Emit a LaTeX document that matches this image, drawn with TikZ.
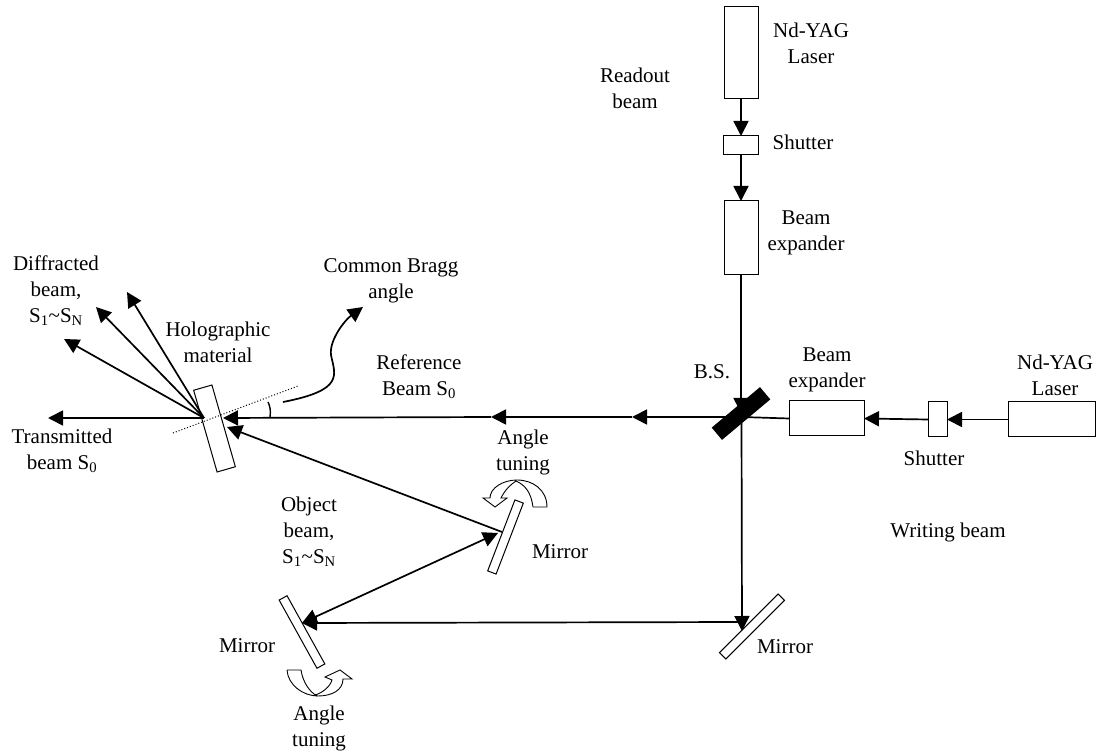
\documentclass[tikz,border=0pt]{standalone}
\usepackage{fontspec}
\setmainfont{Liberation Serif}
\usetikzlibrary{arrows.meta}

\begin{document}
\begin{tikzpicture}[x=1pt, y=-1pt,
    box/.style={draw, line width=1pt, inner sep=0pt, outer sep=0pt},
    plate/.style={box, fill=white, minimum height=9pt},
    beam/.style={line width=1.7pt},
    ray/.style={beam, -{Triangle[length=15pt, width=15pt]}},
    label/.style={align=center, inner sep=0pt, font=\fontsize{21}{26}\selectfont}]
\useasboundingbox (0,0) rectangle (1096,751);

% Vertical arm with the readout laser
\node[box, minimum width=34pt, minimum height=92pt] (laserTop) at (741,53) {};
\node[box, minimum width=35pt, minimum height=19pt] (shutterTop) at (741,145.5) {};
\node[box, minimum width=34pt, minimum height=74pt] (expanderTop) at (741,238) {};

% Horizontal arm with the writing laser
\node[box, minimum width=75pt, minimum height=35pt] (expanderRight) at (826.5,418.5) {};
\node[box, minimum width=19pt, minimum height=35pt] (shutterRight) at (937.5,419.5) {};
\node[box, minimum width=87.5pt, minimum height=35pt] (laserRight) at (1051.75,419.5) {};

% Mirrors and the holographic plate
\node[plate, minimum width=83pt, rotate=45] (mirrorRight) at (752,626.5) {};
\node[plate, minimum width=78pt, rotate=-61] (mirrorLeft) at (302,632) {};
\node[plate, minimum width=76pt, rotate=69] (mirrorUpper) at (505.5,537) {};
\node[box, fill=white, minimum width=85pt, minimum height=19pt, rotate=-74] (holo) at (214.5,428.5) {};

% Points on the beams
\coordinate (split) at (741.5,417);
\coordinate (splitUp) at (741,413);
\coordinate (turnRight) at (742,622);
\coordinate (hitRight) at (742,631);
\coordinate (hitLeft) at (302,623);
\coordinate (hitUpper) at (498,533);
\coordinate (startUpper) at (502,532);
\coordinate (refA) at (632,417);
\coordinate (refB) at (491,417);
\coordinate (holoRef) at (223,418);
\coordinate (holoObj) at (227,427);
\coordinate (holoOut) at (204,418);
\coordinate (outMain) at (48,418);
\coordinate (outA) at (127,292);
\coordinate (outB) at (96,307);
\coordinate (outC) at (64,339);

% Beams
\draw[ray] (laserTop.south) -- (shutterTop.north);
\draw[ray] (shutterTop.south) -- (expanderTop.north);
\draw[ray] (expanderTop.south) -- (splitUp);
\draw[ray] (split) -- (hitRight);
\draw[ray] (laserRight.west) -- (shutterRight.east);
\draw[ray] (shutterRight.west) -- (expanderRight.east);
\draw[beam] (expanderRight.west) -- (split);
\draw[ray] (split) -- (refA);
\draw[ray] (refA) -- (refB);
\draw[ray] (refB) -- (holoRef);
\draw[ray] (startUpper) -- (holoObj);
\draw[ray] (turnRight) -- (hitLeft);
\draw[ray, {Triangle[length=15pt, width=15pt]}-{Triangle[length=15pt, width=15pt]}] (hitUpper) -- (hitLeft);
\draw[ray] (holoOut) -- (outMain);
\draw[ray] (holoOut) -- (outA);
\draw[ray] (holoOut) -- (outB);
\draw[ray] (holoOut) -- (outC);

% Beam splitter on top of the beams
\node[box, fill=black, minimum width=62pt, minimum height=15pt, rotate=40] (splitter) at (741,413.5) {};

% Normal of the plate and the Bragg angle
\coordinate (normalA) at (173,433);
\coordinate (normalB) at (298,386);
\coordinate (braggA) at (283,402);
\coordinate (braggB) at (363,307);
\draw[dotted, line width=1pt] (normalA) -- (normalB);
\draw[ray] (braggA) .. controls (345,390) and (335,375) .. (331,355) .. controls (329,340) and (345,320) .. (braggB);
\draw[line width=1.4pt] (270,417) .. controls (271,411) and (270,406) .. (268,402);

% Hollow arrows for the angle tuning
\draw[line width=0.9pt] (287,670) -- (301,670) .. controls (303,683) and (310,692) .. (317,696);
\draw[line width=0.9pt] (287,670) .. controls (288,685) and (303,696) .. (318,696)
    .. controls (332,696) and (343,690) .. (343,679) -- (352,679) -- (340,670) -- (325,677) -- (332,680)
    .. controls (330,687) and (322,693) .. (315,695);
\draw[line width=0.9pt] (533,507) -- (547,507) .. controls (547,490) and (533,480) .. (517,480)
    .. controls (503,480) and (490,488) .. (490,498) -- (483,498) -- (495,507) -- (507,498) -- (501,498)
    .. controls (505,490) and (510,485) .. (516,481);
\draw[line width=0.9pt] (533,507) .. controls (531,492) and (525,485) .. (516,481);

% Labels
\node[label] (tLaserTop) at (811,43) {Nd-YAG\\Laser};
\node[label] (tReadout) at (635,88) {Readout\\beam};
\node[label] (tShutterTop) at (803,142) {Shutter};
\node[label] (tExpanderTop) at (806,233) {Beam\\expander};
\node[label] (tDiffracted) at (56,291) {Diffracted\\beam,\\S\textsubscript{1}\textasciitilde S\textsubscript{N}};
\node[label] (tHolo) at (218,342) {Holographic\\material};
\node[label] (tBragg) at (391,281) {Common Bragg\\angle};
\node[label] (tReference) at (419,377) {Reference\\Beam S\textsubscript{0}};
\node[label] (tSplitter) at (712,372) {B.S.};
\node[label] (tExpanderRight) at (827,370) {Beam\\expander};
\node[label] (tLaserRight) at (1055,375) {Nd-YAG\\Laser};
\node[label] (tShutterRight) at (934,458) {Shutter};
\node[label] (tWriting) at (948,532) {Writing beam};
\node[label] (tTransmitted) at (62,451) {Transmitted\\beam S\textsubscript{0}};
\node[label] (tTuningUpper) at (523,452) {Angle\\tuning};
\node[label] (tObject) at (309,532) {Object\\beam,\\S\textsubscript{1}\textasciitilde S\textsubscript{N}};
\node[label] (tMirrorUpper) at (560,552) {Mirror};
\node[label] (tMirrorLeft) at (247,646) {Mirror};
\node[label] (tMirrorRight) at (785,647) {Mirror};
\node[label] (tTuningLower) at (319,728) {Angle\\tuning};
\end{tikzpicture}
\end{document}
